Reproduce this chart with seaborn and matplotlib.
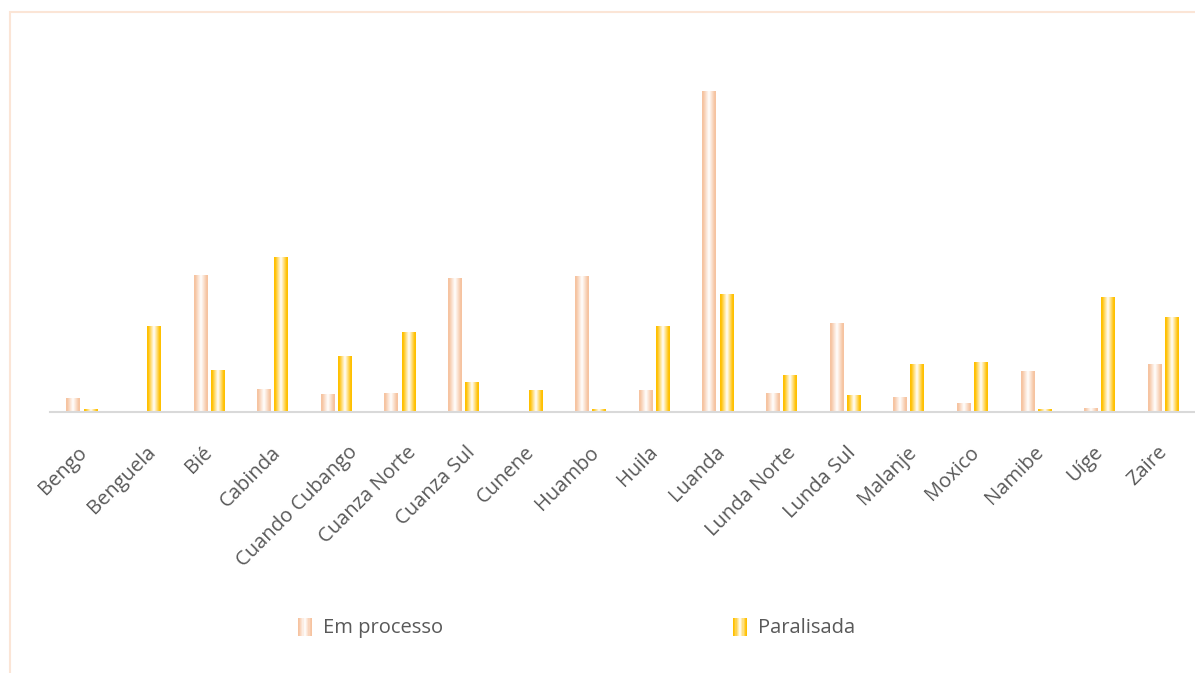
import numpy as np
import pandas as pd
import matplotlib
matplotlib.use("Agg")
import matplotlib.pyplot as plt
import seaborn as sns
from matplotlib.colors import LinearSegmentedColormap
from matplotlib.patches import Rectangle
from matplotlib.legend_handler import HandlerBase

provincias = ["Bengo", "Benguela", "Bié", "Cabinda", "Cuando Cubango", "Cuanza Norte",
              "Cuanza Sul", "Cunene", "Huambo", "Huila", "Luanda", "Lunda Norte",
              "Lunda Sul", "Malanje", "Moxico", "Namibe", "Uíge", "Zaire"]
em_processo = [14, 0, 137, 23, 18, 19, 134, 0, 136, 22, 321, 19, 89, 15, 9, 41, 4, 48]
paralisada = [3, 86, 42, 155, 56, 80, 30, 22, 3, 86, 118, 37, 17, 48, 50, 3, 115, 95]
series = ["Em processo", "Paralisada"]

edge_colors = {"Em processo": "#F6C3A0", "Paralisada": "#FFC000"}
text_color = "#595959"

df = pd.DataFrame({
    "Província": provincias * 2,
    "Valor": em_processo + paralisada,
    "Estado": [series[0]] * len(provincias) + [series[1]] * len(provincias),
})

sns.set_theme(style="white")
plt.rcParams["font.family"] = ["Open Sans", "DejaVu Sans"]

fig = plt.figure(figsize=(11.95, 6.73), dpi=100)
ax = fig.add_axes([50 / 1195, 1 - 412 / 673, 1145 / 1195, 400 / 673])

sns.barplot(data=df, x="Província", y="Valor", hue="Estado", hue_order=series,
            order=provincias, palette=edge_colors, width=0.54, gap=0.2,
            legend=False, ax=ax)


def gradient_cmap(color):
    return LinearSegmentedColormap.from_list(
        "g", [(0, color), (0.08, color), (0.5, "#FFFFFF"), (0.92, color), (1, color)])


grad = np.linspace(0, 1, 64).reshape(1, -1)
n = len(provincias)
for i, patch in enumerate(ax.patches[:2 * n]):
    estado = series[i // n]
    x0, y0 = patch.get_x(), patch.get_y()
    w, h = patch.get_width(), patch.get_height()
    if h <= 0:
        patch.set_visible(False)
        continue
    patch.set_facecolor("none")
    patch.set_edgecolor("none")
    im = ax.imshow(grad, cmap=gradient_cmap(edge_colors[estado]), aspect="auto",
                   extent=(x0, x0 + w, y0, y0 + h), zorder=2, interpolation="bilinear")
    im.set_clip_path(patch)

ax.set_xlim(-0.5, n - 0.5)
ax.set_ylim(0, 400)
ax.set_xlabel("")
ax.set_ylabel("")
ax.set_yticks([])
for side in ["top", "right", "left"]:
    ax.spines[side].set_visible(False)
ax.spines["bottom"].set_color("#D9D9D9")
ax.spines["bottom"].set_linewidth(1.5)
ax.spines["bottom"].set_zorder(3)
ax.set_xticks(range(n))
ax.set_xticklabels([])
ax.tick_params(axis="x", length=0)

# rotated category labels; longer names sit a little further to the right
labels = []
for i, nome in enumerate(provincias):
    t = ax.annotate(nome, xy=(i, 0), xycoords=("data", "axes fraction"),
                    xytext=(0, -27), textcoords="offset points", rotation=45,
                    ha="right", va="center", rotation_mode="anchor",
                    fontsize=14.5, color=text_color, annotation_clip=False)
    labels.append(t)
fig.canvas.draw()
renderer = fig.canvas.get_renderer()
for t in labels:
    wpx = t.get_window_extent(renderer).width
    dx_px = max(0.0, 0.22 * (wpx - 45))
    t.xyann = (dx_px * 72 / fig.dpi, -27)


class GradientHandler(HandlerBase):
    def create_artists(self, legend, orig_handle, xdescent, ydescent, width, height,
                       fontsize, trans):
        color = orig_handle.get_facecolor()
        cmap = gradient_cmap(color)
        arts = []
        k = 12
        for j in range(k):
            c = cmap((j + 0.5) / k)
            r = Rectangle((-xdescent + j * width / k, -ydescent), width / k, height,
                          facecolor=c, edgecolor="none", transform=trans)
            arts.append(r)
        return arts


handles = [Rectangle((0, 0), 1, 1, facecolor=edge_colors[s]) for s in series]
fig.legend(handles, series, loc="center", bbox_to_anchor=(0.4825, 1 - 628 / 673),
           ncol=2, frameon=False, fontsize=14.5, labelcolor=text_color,
           handler_map={Rectangle: GradientHandler()}, handlelength=0.7,
           handleheight=1.0, handletextpad=0.55, columnspacing=14.4)

# outer chart frame
fig.patches.append(Rectangle((10 / 1195, -0.01), 1.2, 1 - 12 / 673 + 0.01,
                             transform=fig.transFigure, facecolor="none",
                             edgecolor="#FBE5D6", linewidth=1.5, zorder=0))

fig.savefig("out.png", dpi=100)
